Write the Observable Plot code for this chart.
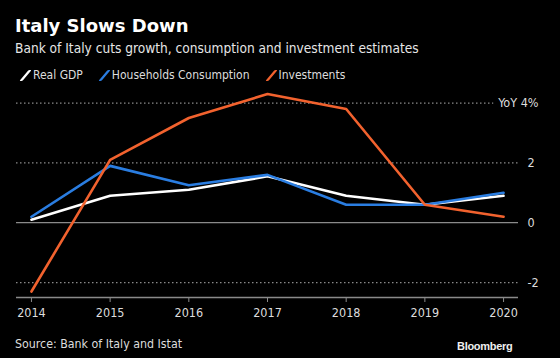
<!DOCTYPE html>
<html>
<head>
<meta charset="utf-8">
<script src="https://cdn.jsdelivr.net/npm/d3@7"></script>
<script src="https://cdn.jsdelivr.net/npm/@observablehq/plot@0.6"></script>
<style>
  html, body { margin: 0; padding: 0; background: #000; }
  body { width: 560px; height: 358px; overflow: hidden; position: relative; font-family: "DejaVu Sans Condensed", "DejaVu Sans", sans-serif; color: #ddd; }
  #head { position: relative; height: 84px; }
  #title { position: absolute; left: 15px; top: 15px; font-size: 18px; font-weight: bold; color: #fff; font-family: "DejaVu Sans", sans-serif; }
  #sub { position: absolute; left: 15px; top: 40px; font-size: 13.6px; color: #e6e6e6; }
  #legend { position: absolute; left: 20px; top: 68px; font-size: 12px; color: #ddd; display: flex; }
  .li { display: flex; align-items: center; margin-right: 16px; }
  .sw { display: inline-block; width: 3px; height: 11px; transform: skewX(-40deg); margin: 0 6px 0 4px; border-radius: 1px; }
  #chart { height: 250px; }
  #foot { position: relative; height: 24px; }
  #source { position: absolute; left: 15px; top: 3px; font-size: 12.3px; color: #ddd; }
  #logo { position: absolute; left: 457px; top: 6px; font-size: 11px; font-weight: bold; color: #eee; font-family: "Liberation Sans", Arial, sans-serif; letter-spacing: -0.3px; }
</style>
</head>
<body>
<div id="head">
  <div id="title">Italy Slows Down</div>
  <div id="sub">Bank of Italy cuts growth, consumption and investment estimates</div>
  <div id="legend"></div>
</div>
<div id="chart"></div>
<div id="foot">
  <div id="source">Source: Bank of Italy and Istat</div>
  <div id="logo">Bloomberg</div>
</div>
<script>
const years = [2014, 2015, 2016, 2017, 2018, 2019, 2020];
const realGDP = [0.1, 0.9, 1.1, 1.55, 0.9, 0.6, 0.9];
const households = [0.2, 1.9, 1.25, 1.6, 0.6, 0.6, 1.0];
const investments = [-2.3, 2.1, 3.5, 4.3, 3.8, 0.6, 0.2];
const seriesNames = ["Real GDP", "Households Consumption", "Investments"];
const seriesColors = ["#ffffff", "#2a7de1", "#f2622e"];
const yTicks = [-2, 0, 2];
const topTick = 4;
const topTickLabel = "YoY 4%";

const seriesValues = [realGDP, households, investments];
const rows = [];
seriesNames.forEach((name, i) => {
  years.forEach((yr, j) => rows.push({series: name, year: yr, value: seriesValues[i][j]}));
});

// legend
const legend = document.getElementById("legend");
seriesNames.forEach((n, i) => {
  const d = document.createElement("div");
  d.className = "li";
  d.innerHTML = `<span class="sw" style="background:${seriesColors[i]}"></span><span>${n}</span>`;
  legend.appendChild(d);
});

const chart = Plot.plot({
  width: 560,
  height: 250,
  marginTop: 0,
  marginBottom: 37,
  marginLeft: 16,
  marginRight: 42,
  style: {background: "#000", color: "#ddd", fontFamily: "'DejaVu Sans Condensed', 'DejaVu Sans', sans-serif", fontSize: "12.5px"},
  x: {domain: [2013.81, 2020.19]},
  y: {domain: [-2.5, 4.62]},
  color: {domain: seriesNames, range: seriesColors},
  marks: [
    Plot.ruleY(yTicks.filter(d => d !== 0), {stroke: "#8a8a8a", strokeDasharray: "1.5,2.5", strokeWidth: 1.2}),
    Plot.ruleY([topTick], {stroke: "#8a8a8a", strokeDasharray: "1.5,2.5", strokeWidth: 1.2, x1: 2013.81, x2: 2019.875}),
    Plot.ruleY([0], {stroke: "#8a8a8a", strokeWidth: 1.2}),
    Plot.axisY({ticks: yTicks, anchor: "right", label: null, tickSize: 0, tickPadding: 9, textAnchor: "start", tickFormat: d => d < 0 ? "-" + Math.abs(d) : String(d), fill: "#ddd"}),
    Plot.text([topTick], {y: d => d, text: [topTickLabel], frameAnchor: "right", textAnchor: "end", dx: 20, fill: "#ddd"}),
    Plot.ruleY([-2.5], {stroke: "#8a8a8a", strokeWidth: 1.5}),
    Plot.axisX({ticks: years, label: null, tickFormat: d => String(d), tickSize: 5, tickPadding: 6, stroke: "#8a8a8a", fill: "#ddd"}),
    Plot.line(rows, {x: "year", y: "value", z: "series", stroke: "series", strokeWidth: 2.6, strokeLinejoin: "round"})
  ]
});
document.getElementById("chart").appendChild(chart);
</script>
</body>
</html>
